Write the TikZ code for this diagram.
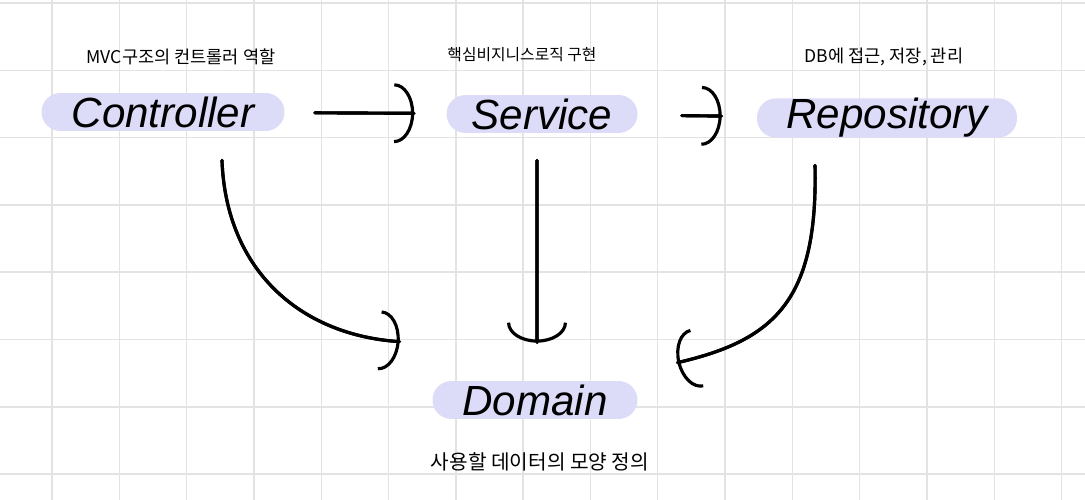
\documentclass[tikz,border=0pt]{standalone}
\usepackage{fontspec}
\setmainfont{Liberation Sans}
\newfontfamily\kofont{Noto Sans CJK KR}
\usetikzlibrary{arrows.meta, positioning}
\definecolor{pill}{HTML}{DCDCF8}
\definecolor{gridgray}{HTML}{E3E3E3}

\begin{document}
\begin{tikzpicture}[x=0.02cm,y=-0.02cm,
    layer/.style={fill=pill, rounded corners=0.38cm, minimum height=0.76cm, inner sep=0pt,
      font=\fontsize{24}{28}\selectfont\itshape},
    note/.style={font=\kofont\fontsize{10}{12}\selectfont},
    gridline/.style={gridgray, line width=0.8pt},
    arr/.style={line width=1.8pt, line cap=round,
      postaction={draw, -{Arc Barb[length=0.4cm, width=1.2cm]}}}]
        \useasboundingbox[fill=white] (0,0) rectangle (1085,500);
        % grid paper
        \foreach \gx in {0,...,15}
          \draw[gridline] ({52+67.3*\gx},0) -- ({52+67.3*\gx},500);
        \foreach \gy in {0,...,7}
          \draw[gridline] (0,{3+67.3*\gy}) -- (1085,{3+67.3*\gy});
        % layers
        \node[layer, minimum width=4.86cm] (ctrl) at (163,112) {Controller};
        \node[layer, minimum width=3.82cm] (svc) at (542,114) {Service};
        \node[layer, minimum width=5.2cm] (repo) at (887,118) {Repository};
        \node[layer, minimum width=4.1cm] (dom) at (535,400) {Domain};
        % notes
        \node[note] (ctrlnote) at (181,57) {MVC구조의 컨트롤러 역할};
        \node[note, font=\kofont\fontsize{9}{11}\selectfont] (svcnote) at (522,55) {핵심비지니스로직 구현};
        \node[note] (reponote) at (884,57) {DB에 접근, 저장, 관리};
        \node[note, font=\kofont\fontsize{11.5}{13}\selectfont] (domnote) at (540,462) {사용할 데이터의 모양 정의};
        % arrows
        \draw[arr, shorten <=0.6cm, shorten >=0.64cm] (ctrl) -- (svc);
        \draw[arr, shorten <=0.88cm, shorten >=0.7cm] (svc) -- (repo);
        \draw[arr, shorten <=0.54cm, shorten >=0.76cm] ([xshift=-0.1cm]svc.south) -- ([xshift=0.04cm]dom.north);
        \draw[arr] ([xshift=1.18cm,yshift=-0.58cm]ctrl.south)
          .. controls (226,270) and (300,335) .. ([xshift=-0.65cm,yshift=0.78cm]dom.north west);
        \draw[arr] ([xshift=-1.44cm,yshift=-0.55cm]repo.south)
          .. controls (818,300) and (775,340) .. ([xshift=0.79cm,yshift=0.36cm]dom.north east);
      \end{tikzpicture}
\end{document}
